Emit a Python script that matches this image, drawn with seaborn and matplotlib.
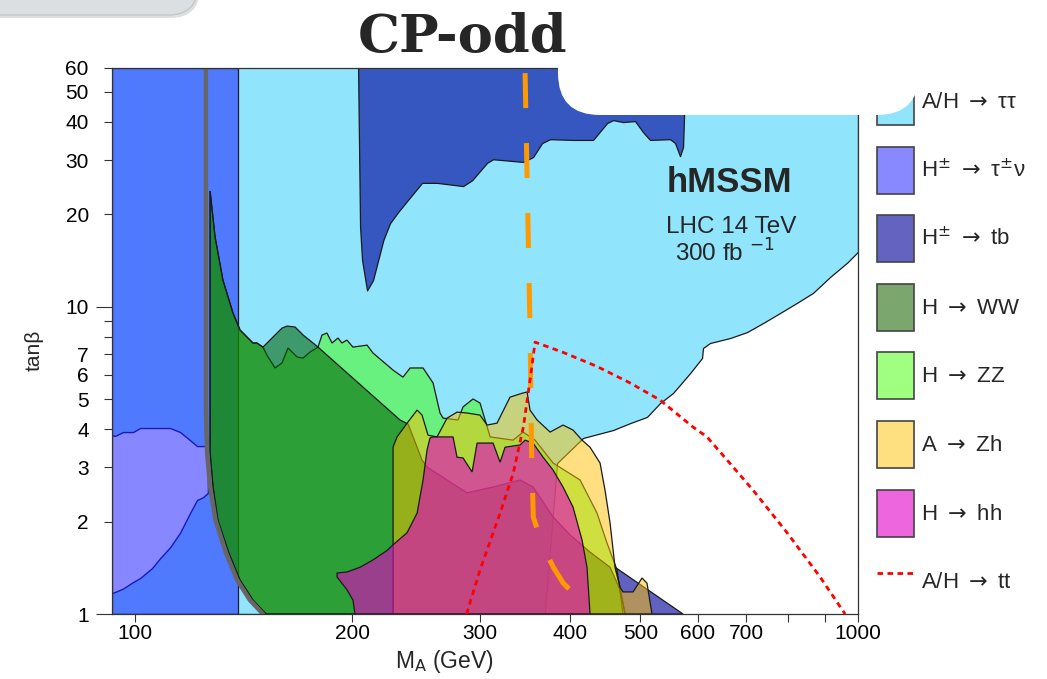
import matplotlib
matplotlib.use("Agg")
import matplotlib.pyplot as plt
import seaborn as sns
from matplotlib.patches import Patch, FancyBboxPatch
from matplotlib.lines import Line2D
from matplotlib.ticker import NullFormatter
from matplotlib.transforms import IdentityTransform

# ---------------------------------------------------------------
# values  (x = M_A in GeV, y = tan(beta))
# ---------------------------------------------------------------
x_ticks = [100, 200, 300, 400, 500, 600, 700, 1000]
x_minor = [800, 900]
y_ticks = [1, 2, 3, 4, 5, 6, 7, 10, 20, 30, 40, 50, 60]
y_minor = [8, 9]

# A/H -> tautau : lower edge of the excluded band (band reaches tanb = 60)
tautau_m = [93, 369, 383.7, 416.8, 422.1, 458.6, 484.1, 510.9, 532.6, 555.0, 585.9,
            608.7, 610.6, 624.3, 665.4, 702.4, 739.2, 780.2, 823.6, 866.8, 914.9, 965.6, 1000]
tautau_lo = [1, 1, 3.10, 3.74, 3.77, 3.97, 4.18, 4.38, 4.86, 5.24, 6.08,
             6.81, 7.34, 7.62, 7.91, 8.27, 8.85, 9.54, 10.3, 11.1, 12.5, 13.9, 15.1]
# gap in the tautau exclusion at low mass
hole_m = [93, 94, 96.4, 99.5, 101.8, 105.7, 108.5, 112, 115.6, 119.3, 122, 124.4, 126.3]
hole_hi = [3.82, 3.80, 3.91, 3.91, 4.03, 4.03, 4.03, 4.03, 3.91, 3.68, 3.52, 3.52, 3.52]
hole_lo = [1.17, 1.18, 1.21, 1.27, 1.31, 1.41, 1.52, 1.65, 1.84, 2.13, 2.35, 2.40, 2.48]

# H+- -> tau nu : full column
taunu_m = [93, 139]

# H+- -> tb : high tanb part (lower edge, up to 60) and low tanb triangle
tb_top_m = [203.7, 205.0, 206.3, 209.6, 213.6, 220.8, 225.5, 231.3, 240.4, 249.7, 261.9,
            284.5, 292.8, 307.1, 313.0, 344.4, 355.5, 365.9, 375.3, 403.7, 430.3, 449.9,
            458.6, 473.4, 491.8, 504.5, 515.8, 549.8, 558.6, 567.5, 573.0, 574.8, 576.0]
tb_top_lo = [60, 18.2, 14.2, 11.3, 12.2, 16.5, 18.7, 20.3, 22.7, 25.3, 25.3,
             24.7, 25.8, 29.4, 30.2, 29.6, 30.7, 34.1, 35.1, 34.9, 34.9, 39.6,
             40.5, 39.9, 40.2, 37.0, 34.9, 35.1, 34.1, 30.9, 33.1, 41.4, 60]
tb_low_m = [461.5, 573, 476.4, 468.9]
tb_low_t = [1.42, 1.0, 1.0, 1.22]

# H -> ZZ outline
zz_m = [127.2, 129.2, 132.5, 136.8, 139.9, 145.8, 147.6, 150.5, 152.4, 156.4, 159.9,
        163.0, 167.8, 171.0, 174.8, 179.3, 181.6, 184.5, 187.5, 191.1, 193.5, 196.6,
        200.4, 209.6, 213.6, 227.7, 235.0, 240.4, 250.5, 258.6, 264.4, 267.0, 280.0,
        284.5, 293.7, 300.3, 305.2, 310.1, 333.6, 344.4, 357.8, 378.9, 412.9, 435.8,
        449.9, 464.5, 473.4, 152.0, 145.8, 139.9, 135.0, 130.4, 128.4, 127.2]
zz_t = [23.8, 16.9, 12.2, 9.54, 8.40, 7.62, 7.62, 7.39, 6.96, 6.32, 6.56,
        7.34, 6.86, 6.81, 7.12, 7.39, 8.09, 8.21, 7.62, 7.91, 7.62, 7.79,
        7.39, 7.50, 7.07, 6.22, 5.90, 6.32, 6.32, 5.65, 4.51, 4.34, 4.28,
        4.72, 5.01, 4.86, 4.28, 3.77, 3.68, 3.91, 3.68, 3.10, 2.73, 2.13,
        1.70, 1.39, 1.0, 1.0, 1.11, 1.29, 1.58, 2.02, 2.59, 3.34]

# H -> WW outline
ww_m = [127.2, 129.2, 132.5, 136.8, 139.9, 145.8, 147.6, 150.5, 155.4, 159.9, 162.5,
        166.7, 171.0, 176.5, 179.3, 232.8, 238.9, 245.8, 249.7, 253.7, 270.4, 288.1,
        313.0, 341.1, 355.5, 378.9, 399.9, 426.2, 454.2, 468.9, 476.4,
        152.0, 145.8, 139.9, 135.0, 130.4, 128.4, 127.2]
ww_t = [23.8, 16.9, 12.2, 9.54, 8.40, 7.62, 7.62, 7.39, 7.97, 8.52, 8.65,
        8.59, 8.09, 7.62, 7.39, 4.28, 4.15, 3.49, 3.17, 3.01, 2.73, 2.48,
        2.59, 2.73, 2.59, 2.07, 1.81, 1.59, 1.42, 1.20, 1.0,
        1.0, 1.11, 1.29, 1.58, 2.02, 2.59, 3.34]

# A -> Zh outline
zh_m = [227.7, 227.7, 230.6, 238.1, 245.8, 249.7, 254.5, 261.9, 270.4, 279.1, 288.1,
        300.3, 307.1, 317.0, 327.3, 330.4, 344.4, 348.8, 352.1, 360.1, 375.3, 391.1,
        403.7, 415.5, 426.2, 440.0, 447.0, 454.2, 461.5, 468.9, 473.4, 488.7, 502.9,
        510.9, 519.1]
zh_t = [1.0, 3.49, 3.77, 4.18, 4.61, 4.44, 3.82, 3.77, 4.34, 4.54, 4.51,
        4.44, 4.12, 4.18, 4.86, 5.08, 5.24, 5.28, 4.61, 4.28, 3.91, 4.12,
        3.97, 3.68, 3.49, 3.10, 2.53, 1.98, 1.42, 1.22, 1.18, 1.18, 1.31,
        1.26, 1.0]

# H -> hh outline
hh_m = [201.7, 200.4, 196.6, 190.5, 190.5, 196.6, 205.0, 213.6, 223.4, 227.7, 238.1,
        245.8, 250.5, 253.7, 256.1, 258.6, 275.6, 279.1, 284.5, 292.8, 297.5, 313.0,
        320.1, 325.2, 341.1, 346.6, 355.5, 367.0, 378.9, 391.1, 403.7, 415.5, 422.1, 426.2]
hh_t = [1.0, 1.11, 1.20, 1.32, 1.36, 1.37, 1.42, 1.50, 1.61, 1.68, 1.84,
        2.13, 2.73, 3.42, 3.74, 3.77, 3.77, 3.24, 3.22, 2.90, 3.60, 3.60,
        3.12, 3.49, 3.55, 3.68, 3.60, 3.24, 2.94, 2.59, 2.23, 1.74, 1.42, 1.0]

# hMSSM boundary (grey), orange dashed contour, A/H -> tt (red dotted)
gray_m = [125.5, 125.5, 125.7, 126.0, 127.2, 129.4, 133.8, 138.6, 144.4, 150.5]
gray_t = [60, 4.86, 3.97, 3.34, 2.59, 2.02, 1.58, 1.29, 1.11, 1.0]
orange_m = [346.6, 352.1, 354.0, 355.8, 361.5, 369.4, 379.2, 391.4, 408.5, 424.0]
orange_t = [57.6, 8.40, 3.17, 2.07, 1.84, 1.61, 1.42, 1.26, 1.14, 1.03]
tt_m = [287.7, 300.3, 320.1, 333.9, 344.7, 352.1, 357.8, 391.4, 435.3, 484.1, 532.6,
        591.5, 618.4, 659.3, 716.0, 797.8, 886.3, 959.6]
tt_t = [1.0, 1.39, 2.13, 2.88, 4.06, 5.77, 7.67, 7.10, 6.40, 5.65, 4.97,
        4.06, 3.77, 3.17, 2.53, 1.84, 1.32, 1.0]

legend_labels = [r"A/H $\rightarrow$ ττ", r"H$^{\pm}$ $\rightarrow$ τ$^{\pm}$ν",
                 r"H$^{\pm}$ $\rightarrow$ tb", r"H $\rightarrow$ WW", r"H $\rightarrow$ ZZ",
                 r"A $\rightarrow$ Zh", r"H $\rightarrow$ hh", r"A/H $\rightarrow$ tt"]

# ---------------------------------------------------------------
sns.set_theme(style="ticks")
plt.rcParams["font.family"] = ["Liberation Sans", "DejaVu Sans"]
plt.rcParams["mathtext.fontset"] = "dejavusans"
plt.rcParams["mathtext.default"] = "rm"

fig = plt.figure(figsize=(10.47, 6.79), dpi=100)
ax = fig.add_axes([0.1067, 0.0957, 0.7128, 0.8047])
ax.set_xscale("log")
ax.set_yscale("log")


def rgba(r, g, b, a):
    return (r / 255, g / 255, b / 255, a)


c_tautau = rgba(144, 228, 252, 1.0)
c_taunu = rgba(17, 17, 255, 0.5)
c_tb = rgba(0, 0, 155, 0.62)
c_ww = rgba(0, 98, 0, 0.57)
c_zz = rgba(65, 255, 1, 0.5)
c_zh = rgba(255, 193, 1, 0.5)
c_hh = rgba(227, 0, 198, 0.6)
edge = "#1a1a1a"
lw = 0.9

ax.fill_between(tautau_m, tautau_lo, 60, facecolor=c_tautau, edgecolor=edge, lw=lw, zorder=1)
ax.fill_between(hole_m, hole_lo, hole_hi, facecolor="white", edgecolor="#22227a", lw=1.0, zorder=1.5)
ax.fill_between(taunu_m, 1, 60, facecolor=c_taunu, edgecolor=edge, lw=lw, zorder=2)
ax.fill_between(tb_top_m, tb_top_lo, 60, facecolor=c_tb, edgecolor=edge, lw=lw, zorder=3)
ax.fill(tb_low_m, tb_low_t, facecolor=c_tb, edgecolor=edge, lw=lw, zorder=3)
ax.fill(zz_m, zz_t, facecolor=c_zz, edgecolor=edge, lw=lw, zorder=4)
ax.fill(ww_m, ww_t, facecolor=c_ww, edgecolor=edge, lw=lw, zorder=5)
ax.fill(zh_m, zh_t, facecolor=c_zh, edgecolor=edge, lw=lw, zorder=6)
ax.fill(hh_m, hh_t, facecolor=c_hh, edgecolor=edge, lw=lw, zorder=7)

sns.lineplot(x=gray_m, y=gray_t, sort=False, estimator=None, color="#666666",
             linewidth=3.2, ax=ax, zorder=8, legend=False)
sns.lineplot(x=orange_m, y=orange_t, sort=False, estimator=None, color="#ff9900",
             linewidth=3.6, linestyle=(0, (7, 7)), ax=ax, zorder=9, legend=False)
sns.lineplot(x=tt_m, y=tt_t, sort=False, estimator=None, color="#ff0000",
             linewidth=2.0, linestyle=(0, (2, 1.6)), ax=ax, zorder=9, legend=False)

ax.set_xlim(93, 1000)
ax.set_ylim(1, 60)

# ticks
ax.set_xticks(x_ticks, [str(v) for v in x_ticks])
ax.set_xticks(x_minor, minor=True)
ax.set_yticks(y_ticks, [str(v) for v in y_ticks])
ax.set_yticks(y_minor, minor=True)
ax.xaxis.set_minor_formatter(NullFormatter())
ax.yaxis.set_minor_formatter(NullFormatter())
ax.tick_params(axis="both", which="both", direction="out", length=5.5, width=0.8,
               color="#333333", labelsize=15, labelcolor="black")
ax.tick_params(axis="y", which="both", pad=11)
ax.tick_params(axis="x", which="both", pad=2)
for t in ax.yaxis.get_major_ticks():
    if t.get_loc() in (1, 10):
        t.tick1line.set_markersize(11.5)

for s in ax.spines.values():
    s.set_visible(True)
    s.set_color("#333333")
    s.set_linewidth(0.9)
    s.set_zorder(20)

ax.set_xlabel("M$_{A}$ (GeV)", fontsize=16.5)
ax.set_ylabel("tanβ", fontsize=15)
ax.xaxis.set_label_coords(0.446, -0.062)
ax.yaxis.set_label_coords(-0.091, 0.483)

ax.text(0.828, 0.79, "hMSSM", transform=ax.transAxes, ha="center", va="center",
        fontsize=25, fontweight="bold", zorder=15)
ax.text(0.83, 0.708, "LHC 14 TeV", transform=ax.transAxes, ha="center", va="center",
        fontsize=17.5, zorder=15)
ax.text(0.822, 0.66, "300 fb $^{-1}$", transform=ax.transAxes, ha="center", va="center",
        fontsize=17.5, zorder=15)

# legend
handles = [Patch(facecolor=c, edgecolor="#444444", linewidth=1.2)
           for c in [c_tautau, rgba(136, 136, 255, 1), rgba(100, 100, 192, 1),
                     rgba(123, 166, 110, 1), rgba(160, 255, 128, 1),
                     rgba(255, 224, 128, 1), rgba(238, 102, 221, 1)]]
handles.append(Line2D([], [], color="#ff0000", linewidth=2.0, linestyle=(0, (2, 1.6))))
ax.legend(handles, legend_labels, loc="upper left",
          bbox_to_anchor=(877 / 1047, 1 - 78 / 679), bbox_transform=fig.transFigure,
          frameon=False, fontsize=16, handlelength=1.67, handleheight=2.88,
          labelspacing=0.97, handletextpad=0.31, borderpad=0, borderaxespad=0)

# screenshot overlays: white rounded panel top right, grey tab top left
fig.add_artist(FancyBboxPatch((558, 564), 361, 200, boxstyle="round,pad=0,rounding_size=42",
                              transform=IdentityTransform(), facecolor="white",
                              edgecolor="none", zorder=10))
fig.add_artist(FancyBboxPatch((-40, 661), 240, 80, boxstyle="round,pad=0,rounding_size=30",
                              transform=IdentityTransform(), facecolor="#bfc1c4",
                              edgecolor="none", alpha=0.5, zorder=10))
fig.add_artist(FancyBboxPatch((-40, 664), 238, 80, boxstyle="round,pad=0,rounding_size=30",
                              transform=IdentityTransform(), facecolor="#dcdfe2",
                              edgecolor="#c4c6c8", linewidth=1, zorder=11))

fig.text(463 / 1047, 1 - 52 / 679, "CP-odd", family="DejaVu Serif", weight="bold",
         fontsize=38, ha="center", va="baseline", zorder=12)

fig.savefig("out.png", dpi=100)
